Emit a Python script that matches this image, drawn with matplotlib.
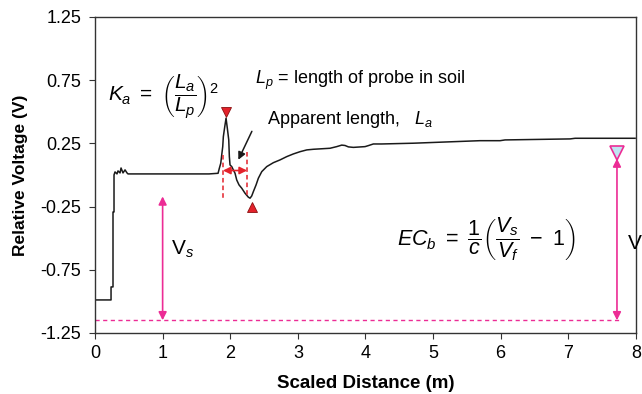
import matplotlib
matplotlib.use("Agg")
import matplotlib.pyplot as plt

plt.rcParams['font.family'] = ['Liberation Sans', 'DejaVu Sans']
plt.rcParams['mathtext.fontset'] = 'custom'
plt.rcParams['mathtext.rm'] = 'Liberation Sans'
plt.rcParams['mathtext.it'] = 'Liberation Sans:italic'
plt.rcParams['mathtext.bf'] = 'Liberation Sans:bold'

# TDR waveform
distance = [0, 0.237, 0.237, 0.266, 0.266, 0.281, 0.281, 0.296, 0.325, 0.340,
            0.370, 0.385, 0.414, 0.444, 0.473, 0.488, 1.686, 1.820, 1.839, 1.860,
            1.874, 1.889, 1.898, 1.919, 1.938, 1.957, 1.978, 1.987, 1.997, 2.022,
            2.046, 2.071, 2.096, 2.130, 2.170, 2.219, 2.268, 2.293, 2.318, 2.342,
            2.382, 2.416, 2.466, 2.540, 2.638, 2.737, 2.836, 2.933, 3.033, 3.132,
            3.229, 3.476, 3.575, 3.649, 3.698, 3.747, 3.821, 3.994, 4.043, 4.117,
            4.241, 4.709, 5.300, 5.695, 5.991, 6.065, 7.027, 7.101, 7.988]
voltage = [-0.989, -0.989, -0.886, -0.886, -0.293, -0.293, 0.0, 0.024, 0.008, 0.032,
           0.016, 0.055, 0.016, 0.040, 0.016, 0.008, 0.008, 0.013, 0.053, 0.093,
           0.158, 0.224, 0.303, 0.382, 0.449, 0.369, 0.277, 0.145, 0.079, 0.066,
           0.040, 0.013, -0.040, -0.079, -0.105, -0.145, -0.176, -0.184, -0.166, -0.132,
           -0.079, -0.026, 0.026, 0.066, 0.097, 0.119, 0.145, 0.166, 0.184, 0.198,
           0.203, 0.211, 0.224, 0.236, 0.233, 0.222, 0.218, 0.224, 0.232, 0.245,
           0.245, 0.251, 0.263, 0.271, 0.271, 0.277, 0.285, 0.290, 0.290]

# markers / reference levels
peak = (1.94, 0.50)
trough = (2.32, -0.25)
vf_point = (7.72, 0.17)
baseline_v = -1.15
vs_top = -0.17
la_start, la_end = 1.893, 2.249

xticks = [0, 1, 2, 3, 4, 5, 6, 7, 8]
yticks = [-1.25, -0.75, -0.25, 0.25, 0.75, 1.25]
ytick_labels = ['-1.25', '-0.75', '-0.25', '0.25', '0.75', '1.25']

pink = '#ec2c95'
red = '#e3222b'

fig = plt.figure(figsize=(6.42, 3.94), dpi=100)
ax = fig.add_axes([0.148, 0.155, 0.8425, 0.802])

ax.plot(distance, voltage, color='#1a1a1a', lw=1.1)

# baseline
ax.plot([0, 7.8], [baseline_v, baseline_v], color=pink, lw=1.0, ls=(0, (3, 2.5)))

# Vs and Vf arrows
ax.annotate('', xy=(1.0, vs_top), xytext=(1.0, baseline_v),
            arrowprops=dict(arrowstyle='<|-|>', color=pink, lw=1.2,
                            mutation_scale=12, shrinkA=0, shrinkB=0))
ax.annotate('', xy=(vf_point[0], vf_point[1] - 0.04), xytext=(vf_point[0], baseline_v),
            arrowprops=dict(arrowstyle='<|-|>', color=pink, lw=1.2,
                            mutation_scale=12, shrinkA=0, shrinkB=0))
ax.plot(*vf_point, marker='v', ms=10, mfc='#bfe4f2', mec=pink, mew=1.2)

# peak / trough markers
ax.plot(*peak, marker='v', ms=6.5, mfc=red, mec='#8a1010', mew=0.6)
ax.plot(*trough, marker='^', ms=6.5, mfc=red, mec='#8a1010', mew=0.6)

# apparent length markers
ax.plot([la_start, la_start], [0.158, -0.198], color=red, lw=1.1, ls=(0, (3, 2)))
ax.plot([la_end, la_end], [0.184, -0.16], color=red, lw=1.1, ls=(0, (3, 2)))
ax.annotate('', xy=(la_start, 0.035), xytext=(la_end, 0.035),
            arrowprops=dict(arrowstyle='<|-|>', color=red, lw=1.2,
                            mutation_scale=11, shrinkA=0, shrinkB=0))
ax.annotate('', xy=(2.12, 0.12), xytext=(2.32, 0.345),
            arrowprops=dict(arrowstyle='-|>', color='#1a1a1a', lw=1.1,
                            mutation_scale=11, shrinkA=0, shrinkB=0))

# text
ax.text(0.19, 0.62, r'$K_a\ =\ \left(\dfrac{L_a}{L_p}\right)^2$', fontsize=15, va='center')
ax.text(2.37, 0.75, r'$L_p$ = length of probe in soil', fontsize=13, va='center')
ax.text(2.54, 0.435, r'Apparent length,   $L_a$', fontsize=13, va='center')
ax.text(4.47, -0.51, r'$EC_b\ =\ \dfrac{1}{c}\left(\dfrac{V_s}{V_f}\ -\ 1\right)$',
        fontsize=15.5, va='center')
ax.text(1.12, -0.59, r'V$_s$', fontsize=15, va='center')
ax.text(7.87, -0.55, r'V$_f$', fontsize=15, va='center')

ax.set_xlim(0, 8)
ax.set_ylim(-1.25, 1.25)
ax.set_xticks(xticks)
ax.set_yticks(yticks)
ax.set_yticklabels(ytick_labels)
ax.tick_params(labelsize=13, length=4, width=0.8, color='#333333')
ax.tick_params(axis='y', pad=6)
ax.tick_params(axis='x', pad=5)
for s in ax.spines.values():
    s.set_color('#333333')
    s.set_linewidth(1.0)

ax.set_xlabel('Scaled Distance (m)', fontsize=13.5, fontweight='bold', labelpad=9)
ax.set_ylabel('Relative Voltage (V)', fontsize=12.5, fontweight='bold', labelpad=9)

fig.savefig('out.png', dpi=100)
